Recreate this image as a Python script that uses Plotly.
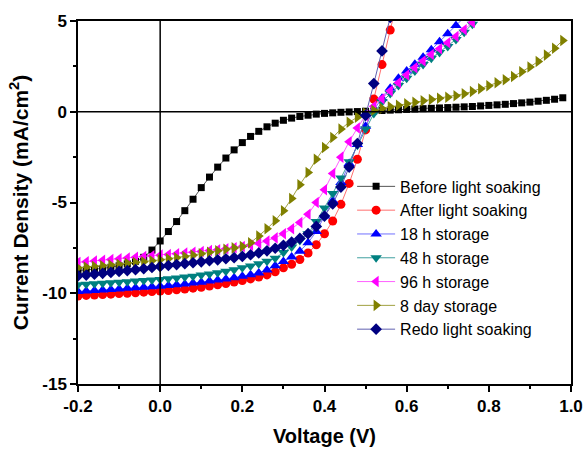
import plotly.graph_objects as go

voltage = [-0.20, -0.18, -0.16, -0.14, -0.12, -0.10, -0.08, -0.06, -0.04, -0.02,
           0.00, 0.02, 0.04, 0.06, 0.08, 0.10, 0.12, 0.14, 0.16, 0.18,
           0.20, 0.22, 0.24, 0.26, 0.28, 0.30, 0.32, 0.34, 0.36, 0.38,
           0.40, 0.42, 0.44, 0.46, 0.48, 0.50, 0.52, 0.54, 0.56, 0.58,
           0.60, 0.62, 0.64, 0.66, 0.68, 0.70, 0.72, 0.74, 0.76, 0.78,
           0.80, 0.82, 0.84, 0.86, 0.88, 0.90, 0.92, 0.94, 0.96, 0.98]

before_soak = [-8.75, -8.72, -8.68, -8.63, -8.57, -8.49, -8.38, -8.24, -8.02, -7.62,
               -7.12, -6.6, -6.05, -5.45, -4.82, -4.18, -3.6, -3.05, -2.55, -2.1,
               -1.7, -1.36, -1.08, -0.83, -0.63, -0.47, -0.35, -0.26, -0.19, -0.13,
               -0.09, -0.06, -0.03, -0.01, 0.01, 0.03, 0.05, 0.07, 0.09, 0.11,
               0.13, 0.15, 0.17, 0.19, 0.21, 0.23, 0.25, 0.27, 0.29, 0.32,
               0.35, 0.38, 0.41, 0.45, 0.49, 0.53, 0.58, 0.63, 0.69, 0.77]

after_soak = [-10.15, -10.12, -10.1, -10.07, -10.05, -10.02, -10.0, -9.97, -9.94, -9.91,
              -9.88, -9.85, -9.81, -9.77, -9.72, -9.67, -9.6, -9.53, -9.46, -9.38,
              -9.3, -9.21, -9.11, -8.99, -8.82, -8.6, -8.4, -8.14, -7.78, -7.33,
              -6.72, -6.02, -5.1, -3.95, -2.62, -1.0, 0.7, 2.6, 4.5, 6.4]

storage_18h = [-9.9, -9.88, -9.85, -9.82, -9.79, -9.76, -9.73, -9.7, -9.67, -9.64,
               -9.61, -9.57, -9.53, -9.49, -9.44, -9.39, -9.33, -9.27, -9.21, -9.14,
               -9.07, -8.98, -8.88, -8.72, -8.48, -8.25, -8.0, -7.68, -7.22, -6.6,
               -5.75, -4.9, -3.9, -2.85, -1.8, -0.8, 0.1, 0.75, 1.3, 1.85,
               2.25, 2.62, 3.0, 3.42, 3.86, 4.3, 4.75, 5.2]

storage_48h = [-9.53, -9.5, -9.48, -9.45, -9.42, -9.39, -9.36, -9.33, -9.3, -9.27,
               -9.24, -9.2, -9.16, -9.11, -9.06, -9.0, -8.94, -8.87, -8.79, -8.7,
               -8.6, -8.5, -8.38, -8.24, -8.07, -7.75, -7.45, -7.1, -6.72, -6.05,
               -5.3, -4.5, -3.65, -2.75, -1.85, -0.95, -0.1, 0.55, 1.0, 1.45,
               1.85, 2.25, 2.6, 2.95, 3.27, 3.6, 3.98, 4.38, 4.82, 5.3]

storage_96h = [-8.3, -8.26, -8.22, -8.18, -8.14, -8.1, -8.06, -8.02, -7.98, -7.94,
               -7.9, -7.86, -7.82, -7.78, -7.74, -7.7, -7.65, -7.6, -7.55, -7.49,
               -7.43, -7.35, -7.25, -7.12, -6.95, -6.72, -6.45, -6.1, -5.65, -5.0,
               -4.3, -3.4, -2.5, -1.65, -0.9, -0.2, 0.3, 0.72, 1.15, 1.6,
               2.02, 2.42, 2.8, 3.15, 3.47, 3.8, 4.15, 4.52, 4.92, 5.35]

storage_8day = [-8.6, -8.56, -8.52, -8.48, -8.44, -8.4, -8.35, -8.3, -8.26, -8.21,
                -8.16, -8.1, -8.04, -7.97, -7.9, -7.82, -7.74, -7.66, -7.58, -7.5,
                -7.42, -7.22, -6.85, -6.45, -6.0, -5.45, -4.78, -4.02, -3.35, -2.62,
                -1.97, -1.42, -0.95, -0.58, -0.3, -0.08, 0.08, 0.18, 0.28, 0.36,
                0.44, 0.52, 0.6, 0.67, 0.74, 0.8, 0.88, 0.99, 1.12, 1.27,
                1.43, 1.6, 1.76, 1.94, 2.2, 2.47, 2.77, 3.12, 3.5, 3.93]

redo_soak = [-9.04, -9.0, -8.95, -8.9, -8.85, -8.8, -8.75, -8.7, -8.65, -8.58,
             -8.52, -8.47, -8.42, -8.37, -8.32, -8.27, -8.21, -8.16, -8.1, -8.04,
             -7.97, -7.88, -7.78, -7.66, -7.52, -7.36, -7.18, -6.98, -6.72, -6.32,
             -5.75, -5.08, -4.15, -3.05, -1.75, -0.2, 1.55, 3.35, 5.2]

series_names = ["Before light soaking", "After light soaking", "18 h storage",
                "48 h storage", "96 h storage", "8 day storage", "Redo light soaking"]
series_values = [before_soak, after_soak, storage_18h, storage_48h,
                 storage_96h, storage_8day, redo_soak]

x_ticks = [-0.2, 0.0, 0.2, 0.4, 0.6, 0.8, 1.0]
x_tick_labels = ["-0.2", "0.0", "0.2", "0.4", "0.6", "0.8", "1.0"]
y_ticks = [5, 0, -5, -10, -15]
y_tick_labels = ["5", "0", "-5", "-10", "-15"]

marker_colors = ["#000000", "#ff0000", "#0000ff", "#008080", "#ff00ff", "#808000", "#000080"]
line_colors = ["#555555", "#ff7070", "#7070ff", "#40a0a0", "#ff60ff", "#a0a040", "#6060b0"]
symbols = ["square", "circle", "triangle-up", "triangle-down", "triangle-left",
           "triangle-right", "diamond"]
sizes = [7, 9, 10, 10, 10, 10, 9]

fig = go.Figure()
for name, vals, mc, lc, sym, sz in zip(series_names, series_values, marker_colors,
                                        line_colors, symbols, sizes):
    fig.add_trace(go.Scatter(
        x=voltage[:len(vals)], y=vals, name=name, mode="lines+markers",
        line=dict(color=lc, width=1),
        marker=dict(symbol=sym, size=sz, color=mc, line=dict(width=0)),
    ))

FONT = "Arial, 'Liberation Sans', sans-serif"

fig.update_layout(
    width=585, height=449,
    margin=dict(l=78, r=14, t=21, b=65),
    paper_bgcolor="white", plot_bgcolor="white",
    font=dict(family=FONT, color="black"),
    showlegend=True,
    legend=dict(x=0.556, y=0.591, xanchor="left", yanchor="top",
                bgcolor="rgba(0,0,0,0)", borderwidth=0, itemwidth=38,
                font=dict(size=16, family=FONT), tracegroupgap=0),
    xaxis=dict(range=[-0.2, 1.0], tickvals=x_ticks, ticktext=x_tick_labels,
               ticks="outside", ticklen=6, tickwidth=1.5, tickcolor="black",
               minor=dict(dtick=0.1, ticks="outside", ticklen=3, tickwidth=1.5, tickcolor="black"),
               showline=True, linecolor="black", linewidth=1.5, mirror=True,
               showgrid=False, zeroline=False, automargin=False,
               tickfont=dict(size=17, family=FONT, weight="bold"),
               title=dict(text="Voltage (V)", font=dict(size=20, family=FONT, weight="bold"),
                          standoff=14)),
    yaxis=dict(range=[-15, 5], tickvals=y_ticks, ticktext=y_tick_labels,
               ticks="outside", ticklen=6, tickwidth=1.5, tickcolor="black",
               minor=dict(dtick=2.5, ticks="outside", ticklen=3, tickwidth=1.5, tickcolor="black"),
               showline=True, linecolor="black", linewidth=1.5, mirror=True,
               showgrid=False, zeroline=False, automargin=False,
               tickfont=dict(size=17, family=FONT, weight="bold"),
               title=dict(text="Current Density (mA/cm<sup>2</sup>)",
                          font=dict(size=21, family=FONT, weight="bold"), standoff=8)),
)

fig.add_shape(type="line", xref="x", yref="paper", x0=0, x1=0, y0=0, y1=1,
              line=dict(color="black", width=1.5), layer="above")
fig.add_shape(type="line", xref="paper", yref="y", x0=0, x1=1, y0=0, y1=0,
              line=dict(color="black", width=1.5), layer="above")

fig.write_html("out.html", config={"displayModeBar": False},
               post_script="document.body.style.margin='0px';document.body.style.padding='0px';")
